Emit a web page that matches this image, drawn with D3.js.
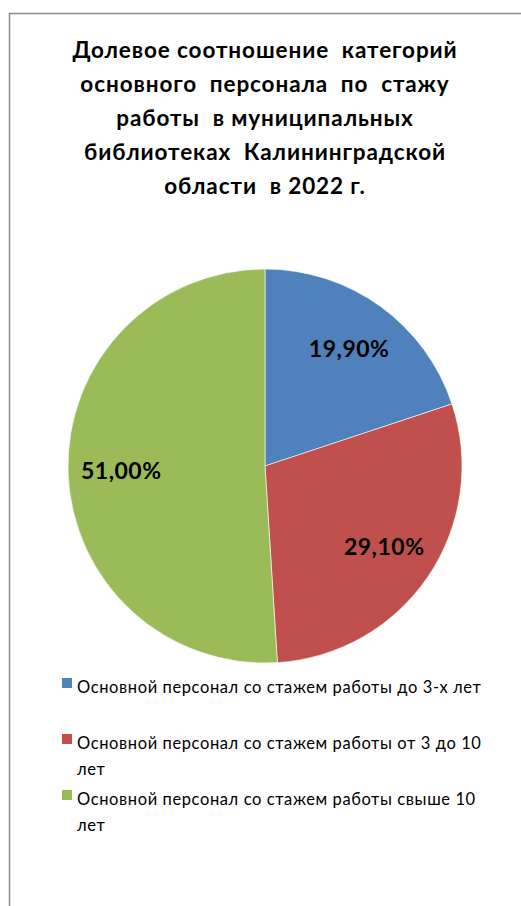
<!DOCTYPE html>
<html>
<head>
<meta charset="utf-8">
<script src="https://cdn.jsdelivr.net/npm/d3@7"></script>
<style>
  body { margin: 0; background: #fff; }
  svg { display: block; }
</style>
</head>
<body>
<svg width="521" height="906"></svg>
<script>
// DATA
const categories = [
  "Основной персонал со стажем работы до 3-х лет",
  "Основной персонал со стажем работы от 3 до 10 лет",
  "Основной персонал со стажем работы свыше 10 лет"
];
const values = [19.9, 29.1, 51.0];
const labels = ["19,90%", "29,10%", "51,00%"];
const titleLines = [
  "Долевое соотношение  категорий",
  "основного  персонала  по  стажу",
  "работы  в муниципальных",
  "библиотеках  Калининградской",
  "области  в 2022 г."
];
const legendLines = [
  ["Основной персонал со стажем работы до 3-х лет"],
  ["Основной персонал со стажем работы от 3 до 10", "лет"],
  ["Основной персонал со стажем работы свыше 10", "лет"]
];
const colors = ["#4F81BD", "#C0504D", "#9BBB59"];

const svg = d3.select("svg");
const font = "Lato, 'Open Sans', sans-serif";

// frame
svg.append("rect")
  .attr("x", 9.5).attr("y", 13.5)
  .attr("width", 530).attr("height", 920)
  .attr("fill", "#fff")
  .attr("stroke", "#8c8c8c")
  .attr("stroke-width", 1.5);

// title
svg.append("text")
  .attr("text-anchor", "middle")
  .attr("font-family", font)
  .attr("font-weight", "bold")
  .attr("font-size", 22.5)
  .attr("letter-spacing", 0.9)
  .attr("fill", "#000")
  .style("white-space", "pre")
  .selectAll("tspan")
  .data(titleLines)
  .enter()
  .append("tspan")
  .attr("x", 265)
  .attr("y", (d, i) => 58 + i * 34)
  .text(d => d);

// pie
const cx = 265, cy = 466, r = 197;
const pie = d3.pie().sort(null).value(d => d);
const arc = d3.arc().innerRadius(0).outerRadius(r);
const labelArc = d3.arc().innerRadius(r * 0.73).outerRadius(r * 0.73);

const g = svg.append("g").attr("transform", `translate(${cx},${cy})`);
const arcs = pie(values);

g.selectAll("path")
  .data(arcs)
  .enter()
  .append("path")
  .attr("d", arc)
  .attr("fill", (d, i) => colors[i])
  .attr("stroke", "#fff")
  .attr("stroke-width", 0.6);

g.selectAll("text.lbl")
  .data(arcs)
  .enter()
  .append("text")
  .attr("class", "lbl")
  .attr("transform", d => `translate(${labelArc.centroid(d)})`)
  .attr("text-anchor", "middle")
  .attr("dy", "0.35em")
  .attr("font-family", font)
  .attr("font-weight", "bold")
  .attr("font-size", 23)
  .attr("letter-spacing", 0.5)
  .text((d, i) => labels[i]);

// legend
const legendY = [688, 744, 800];
const lg = svg.append("g");
legendLines.forEach((lines, i) => {
  lg.append("rect")
    .attr("x", 62).attr("y", legendY[i] - 10)
    .attr("width", 10).attr("height", 10)
    .attr("fill", colors[i]);
  const t = lg.append("text")
    .attr("font-family", font)
    .attr("font-size", 16.5)
    .attr("letter-spacing", 0.6)
    .attr("fill", "#000");
  lines.forEach((line, j) => {
    t.append("tspan")
      .attr("x", 77)
      .attr("y", legendY[i] + 5 + j * 26)
      .text(line);
  });
});
</script>
</body>
</html>
